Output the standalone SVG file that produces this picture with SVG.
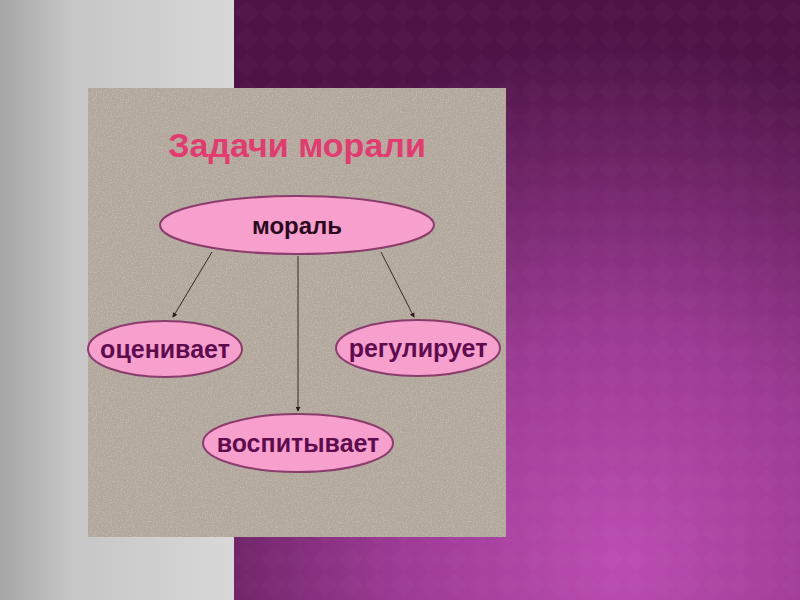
<svg xmlns="http://www.w3.org/2000/svg" width="800" height="600" viewBox="0 0 800 600">
  <defs>
    <linearGradient id="grayGrad" x1="0" y1="0" x2="1" y2="0">
      <stop offset="0" stop-color="#a6a6a6"/>
      <stop offset="0.3" stop-color="#c6c6c6"/>
      <stop offset="1" stop-color="#d8d8d8"/>
    </linearGradient>
    <radialGradient id="purpleGrad" cx="620" cy="560" r="520" gradientUnits="userSpaceOnUse">
      <stop offset="0" stop-color="#bb4db2"/>
      <stop offset="0.45" stop-color="#9a3a92"/>
      <stop offset="1" stop-color="#4e1446"/>
    </radialGradient>
    <pattern id="diamonds" width="26" height="26" patternUnits="userSpaceOnUse">
      <path d="M13 1 L25 13 L13 25 L1 13 Z" fill="#ffffff" fill-opacity="0.015"/>
    </pattern>
    <filter id="grain" x="0" y="0" width="100%" height="100%">
      <feTurbulence type="fractalNoise" baseFrequency="0.8" numOctaves="2" seed="3" result="n"/>
      <feColorMatrix in="n" type="matrix" values="0 0 0 0 0.55  0 0 0 0 0.51  0 0 0 0 0.47  2.2 0 0 0 -1.0" result="dots"/>
      <feComposite in="dots" in2="SourceGraphic" operator="in" result="d2"/>
      <feMerge><feMergeNode in="SourceGraphic"/><feMergeNode in="d2"/></feMerge>
    </filter>
    <marker id="arrow" viewBox="0 0 6 6" refX="5" refY="3" markerWidth="5" markerHeight="5" orient="auto">
      <path d="M0 0 L6 3 L0 6 Z" fill="#2a1a1a"/>
    </marker>
  </defs>
  <style>
    .node ellipse { fill: #f7a0cd; stroke: #8a3c6c; stroke-width: 2; }
    .lbl { font-family: "Liberation Sans", Arial, sans-serif; font-weight: bold; text-anchor: middle; }
    .child { fill: #5e0c4e; font-size: 25px; }
    .conn line { stroke: #3a2a2a; stroke-width: 1; marker-end: url(#arrow); }
  </style>

  <rect x="0" y="0" width="235" height="600" fill="url(#grayGrad)"/>
  <rect x="234" y="0" width="566" height="600" fill="url(#purpleGrad)"/>
  <rect x="234" y="0" width="566" height="600" fill="url(#diamonds)"/>

  <rect x="88" y="88" width="418" height="449" fill="#b2a79b" filter="url(#grain)"/>

  <text x="297" y="157" class="lbl" font-size="34" fill="#e33a70">Задачи морали</text>

  <g class="conn" id="connectors">
    <line x1="212" y1="252" x2="173" y2="317"/>
    <line x1="298" y1="256" x2="298" y2="411"/>
    <line x1="381" y1="252" x2="414" y2="317"/>
  </g>

  <g class="node" id="node-moral">
    <ellipse cx="297" cy="225" rx="137" ry="29"/>
    <text x="297" y="234" class="lbl" font-size="24" fill="#2a0a1e">мораль</text>
  </g>
  <g class="node" id="node-ocenivaet">
    <ellipse cx="165" cy="349" rx="77" ry="28"/>
    <text x="165" y="358" class="lbl child">оценивает</text>
  </g>
  <g class="node" id="node-reguliruet">
    <ellipse cx="418" cy="348" rx="82" ry="28"/>
    <text x="418" y="357" class="lbl child">регулирует</text>
  </g>
  <g class="node" id="node-vospityvaet">
    <ellipse cx="298" cy="443" rx="95" ry="29"/>
    <text x="298" y="452" class="lbl child">воспитывает</text>
  </g>
</svg>
